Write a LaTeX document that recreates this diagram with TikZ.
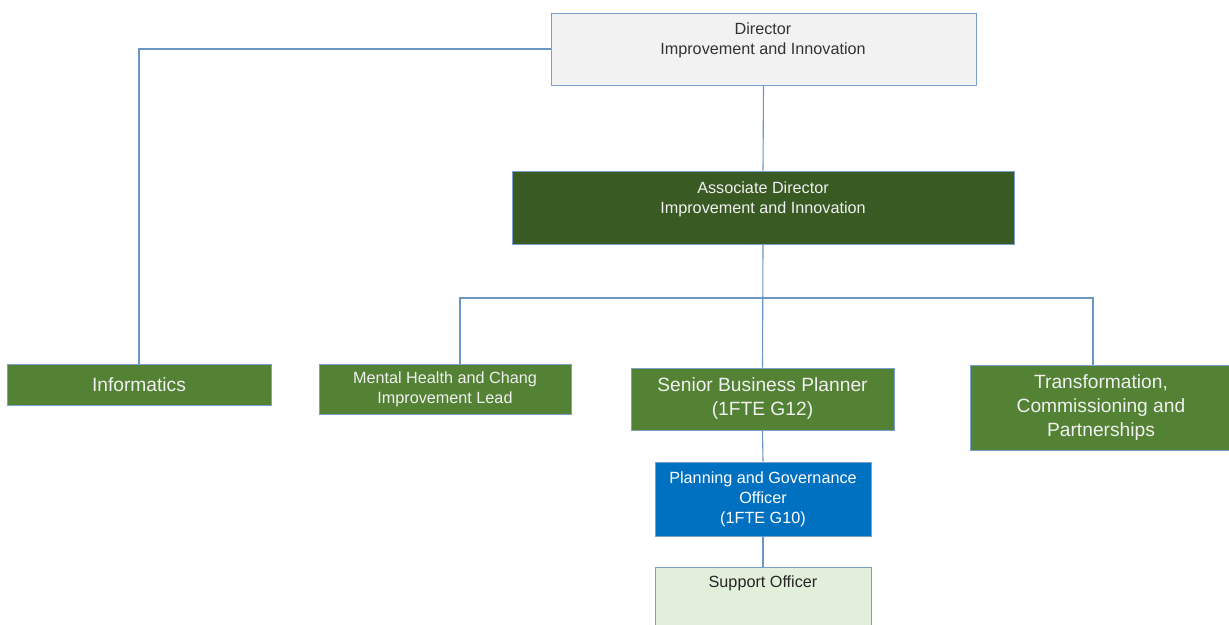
\documentclass[tikz,border=0pt]{standalone}
\usepackage{fontspec}
\setmainfont{Liberation Sans}
\usetikzlibrary{positioning}

\definecolor{edgeblue}{HTML}{7AA1CB}
\definecolor{linkblue}{HTML}{6A96C4}
\definecolor{dirgray}{HTML}{F2F2F2}
\definecolor{darkgreen}{HTML}{3A5A24}
\definecolor{midgreen}{HTML}{548235}
\definecolor{planblue}{HTML}{0070C0}
\definecolor{palegreen}{HTML}{E2EFDA}

\tikzset{
  box/.style={draw=edgeblue, line width=0.9pt, inner sep=0pt, align=center},
  small/.style={font=\fontsize{16.2}{20}\selectfont},
  big/.style={font=\fontsize{19.2}{24}\selectfont},
  link/.style={draw=linkblue, line width=1.1pt}
}

\begin{document}
\begin{tikzpicture}[x=1pt,y=-1pt]
 \clip (0,0) rectangle (1229,624);
 \fill[white] (0,0) rectangle (1229,624);

 % top of the chart
 \node[box,fill=dirgray,minimum width=425pt,minimum height=72pt] (director) at (763.5,49) {};
 \node[small,text=black!80,align=center] (directortxt) at (763,40) {Director\\Improvement and Innovation};
 \node[box,fill=darkgreen,minimum width=502pt,minimum height=73pt] (assoc) at (763,207.5) {};
 \node[small,text=white!94!black,align=center] (assoctxt) at (763,199) {Associate Director\\Improvement and Innovation};

 % second row
 \node[box,big,fill=midgreen,text=white!94!black,minimum width=264pt,minimum height=41pt] (informatics) at (139,384.5) {Informatics};
 \node[box,small,fill=midgreen,text=white!94!black,minimum width=252pt,minimum height=50pt] (mental) at (445,389) {Mental Health and Chang\\Improvement Lead};
 \node[box,big,fill=midgreen,text=white!94!black,minimum width=263pt,minimum height=62pt] (senior) at (762.5,399) {Senior Business Planner\\(1FTE G12)};
 \node[box,big,fill=midgreen,text=white!94!black,minimum width=262pt,minimum height=85pt] (transform) at (1101,407.5) {Transformation,\\Commissioning and\\Partnerships};

 % under the planner
 \node[box,small,fill=planblue,text=white,minimum width=216pt,minimum height=74pt] (planning) at (763,499) {Planning and Governance\\Officer\\(1FTE G10)};
 \node[box,fill=palegreen,minimum width=216pt,minimum height=74pt] (support) at (763,604) {};
 \node[small,text=black!85] (supporttxt) at (763,583) {Support Officer};

 % connectors
 \coordinate (barleft) at (460,298);
 \coordinate (barright) at (1093,298);
 \draw[link] (director.west) -| (informatics.north);
 \draw[link] (director.south) -- (assoc.north);
 \draw[link] (assoc.south) -- (senior.north);
 \draw[link] (barleft |- mental.north) -- (barleft) -- (barright) -- (barright |- transform.north);
 \draw[link] (senior.south) -- (planning.north);
 \draw[link] (planning.south) -- (support.north);
\end{tikzpicture}
\end{document}
